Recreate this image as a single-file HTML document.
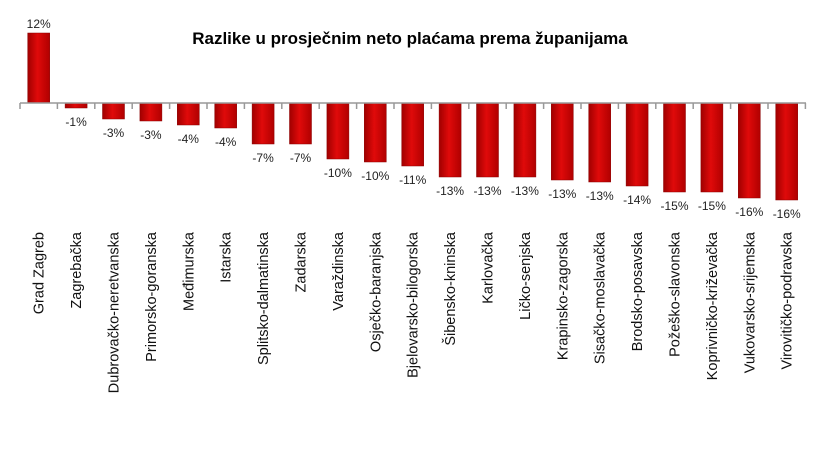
<!DOCTYPE html>
<html><head><meta charset="utf-8"><style>
body{margin:0;background:#fff;}
svg{display:block;font-family:"Liberation Sans",sans-serif;}
</style></head><body>
<svg width="820" height="449" viewBox="0 0 820 449">
<defs>
<linearGradient id="g" x1="0" x2="1" y1="0" y2="0">
<stop offset="0" stop-color="#a00000"/><stop offset="0.45" stop-color="#e00a0a"/><stop offset="1" stop-color="#b00000"/>
</linearGradient>
</defs>
<text x="410" y="44" font-size="17" font-weight="bold" text-anchor="middle" fill="#000">Razlike u prosječnim neto plaćama prema županijama</text>
<g id="bars"></g>
<line x1="20" y1="103" x2="806" y2="103" stroke="#999" stroke-width="1.5"/>
<g id="ticks" stroke="#999" stroke-width="1.5"></g>
<g id="labels"></g>
<script>
(function(){
var names=["Grad Zagreb","Zagrebačka","Dubrovačko-neretvanska","Primorsko-goranska","Međimurska","Istarska","Splitsko-dalmatinska","Zadarska","Varaždinska","Osječko-baranjska","Bjelovarsko-bilogorska","Šibensko-kninska","Karlovačka","Ličko-senjska","Krapinsko-zagorska","Sisačko-moslavačka","Brodsko-posavska","Požeško-slavonska","Koprivničko-križevačka","Vukovarsko-srijemska","Virovitičko-podravska"];
var vals=["12%","-1%","-3%","-3%","-4%","-4%","-7%","-7%","-10%","-10%","-11%","-13%","-13%","-13%","-13%","-13%","-14%","-15%","-15%","-16%","-16%"];
var ends=[33,108,119,121,125,128,144,144,159,162,166,177,177,177,180,182,186,192,192,198,200];
var ns="http://www.w3.org/2000/svg";
var B=document.getElementById("bars"),T=document.getElementById("ticks"),L=document.getElementById("labels");
var step=37.4;
for(var i=0;i<=21;i++){var x=20+i*step;var l=document.createElementNS(ns,"line");l.setAttribute("x1",x);l.setAttribute("x2",x);l.setAttribute("y1",103);l.setAttribute("y2",109);T.appendChild(l);}
for(var i=0;i<21;i++){
 var c=20+step/2+i*step;
 var r=document.createElementNS(ns,"rect");
 var yTop=Math.min(103,ends[i]),h=Math.abs(ends[i]-103);
 r.setAttribute("x",c-11);r.setAttribute("y",yTop);r.setAttribute("width",22);r.setAttribute("height",h);
 r.setAttribute("fill","url(#g)");r.setAttribute("stroke","#8a0000");r.setAttribute("stroke-width","0.5");B.appendChild(r);
 var t=document.createElementNS(ns,"text");
 t.setAttribute("x",c);t.setAttribute("font-size","12");t.setAttribute("text-anchor","middle");t.setAttribute("fill","#222");
 t.setAttribute("y",i==0?28:ends[i]+18);t.textContent=vals[i];L.appendChild(t);
 var n=document.createElementNS(ns,"text");
 n.setAttribute("font-size","14.5");n.setAttribute("text-anchor","end");n.setAttribute("fill","#111");
 n.setAttribute("transform","translate("+(c+5)+",232) rotate(-90)");n.textContent=names[i];L.appendChild(n);
}
})();
</script>
</svg>
</body></html>
